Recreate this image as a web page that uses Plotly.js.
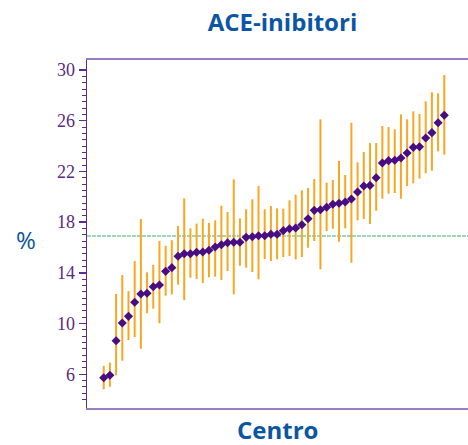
<!DOCTYPE html>
<html>
<head>
<meta charset="utf-8">
<script src="https://cdn.plot.ly/plotly-3.0.1.min.js"></script>
<style>html,body{margin:0;padding:0;background:#fff;}#chart{width:468px;height:445px;}</style>
</head>
<body>
<div id="chart"></div>
<script>
// Centres (ordered), values in %
const centres = Array.from({length: 56}, (_, i) => i + 1);
const values = [5.73,5.92,8.65,10.05,10.57,11.68,12.33,12.39,12.91,13.04,14.12,14.41,15.31,15.51,15.51,15.62,15.64,15.78,16.04,16.22,16.38,16.41,16.41,16.8,16.85,16.93,16.93,17.04,17.04,17.33,17.48,17.54,17.8,18.27,18.93,18.98,19.17,19.41,19.49,19.59,19.83,20.38,20.85,20.9,21.5,22.66,22.85,22.88,23.06,23.45,23.9,23.95,24.64,25.06,25.84,26.43];
const upper = [6.66,6.92,12.33,13.83,12.57,14.93,18.25,14.04,14.62,16.51,16.14,16.57,17.69,19.88,17.51,17.88,18.27,17.93,18.14,19.3,18.8,21.38,18.3,19.01,19.8,20.85,19.01,19.27,19.09,19.06,19.72,20.16,20.51,20.69,21.4,26.11,21.11,21.32,22.82,21.72,25.84,22.72,23.53,24.24,24.24,25.58,25.5,25.32,26.5,26.11,26.74,26.53,27.53,28.24,28.16,29.6];
const lower = [4.82,5.02,5.92,7.07,8.7,8.94,8.02,10.81,11.17,10.02,12.2,12.31,13.07,11.84,13.62,13.52,13.2,13.65,13.7,13.44,14.15,12.31,14.56,14.41,14.07,13.49,15.09,14.93,15.07,15.25,15.33,15.07,15.25,15.98,16.51,14.28,17.3,17.48,16.46,17.51,14.8,18.14,18.25,17.85,18.9,19.85,20.24,20.3,19.85,20.85,21.06,21.43,21.85,22.06,23.59,23.32];
const overall = 16.9;
const tickVals = [4,6,8,10,12,14,16,18,20,22,24,26,28,30];
const tickText = ['','6','','10','','14','','18','','22','','26','','30'];

const minorVals = [];
for (let v = 4; v <= 30.001; v += 0.5) minorVals.push(v);

const trace = {
  x: centres,
  y: values,
  type: 'scatter',
  mode: 'markers',
  marker: {symbol: 'diamond', size: 7, color: '#4a0d80'},
  error_y: {
    type: 'data', symmetric: false,
    array: values.map((v, i) => upper[i] - v),
    arrayminus: values.map((v, i) => v - lower[i]),
    color: '#f9a620', thickness: 2, width: 0
  },
  hoverinfo: 'skip'
};

const purple = '#5b2d8e';
const layout = {
  width: 468, height: 445,
  margin: {l: 87, r: 0, t: 60, b: 37},
  paper_bgcolor: '#fff', plot_bgcolor: '#fff',
  showlegend: false,
  title: {
    text: '<b>ACE-inibitori</b>',
    font: {family: 'Open Sans', size: 24, color: '#0b56a4'},
    x: 0.6036, xanchor: 'center', xref: 'container',
    y: 0.95, yanchor: 'middle', yref: 'container'
  },
  xaxis: {
    range: [-1.7, 59.83],
    showline: true, mirror: true, linecolor: '#9a7cc4', linewidth: 2,
    showgrid: false, zeroline: false, ticks: '', showticklabels: false
  },
  yaxis: {
    range: [3.34, 30.79],
    showline: true, linecolor: purple, linewidth: 1.5,
    showgrid: false, zeroline: false,
    tickmode: 'array', tickvals: tickVals, ticktext: tickText,
    ticks: 'outside', ticklen: 7, tickwidth: 1.5, tickcolor: purple,
    tickfont: {family: 'Liberation Serif', size: 18, color: '#5b2a86'},
    minor: {tickmode: 'array', tickvals: minorVals, ticks: 'outside', ticklen: 4, tickwidth: 1, tickcolor: purple, showgrid: false}
  },
  shapes: [{
    type: 'line', xref: 'paper', x0: 0, x1: 1, yref: 'y', y0: overall, y1: overall,
    line: {color: '#9dd7b3', width: 2, dash: '4px,1px'},
    layer: 'below'
  }],
  annotations: [
    {text: '<b>Centro</b>', xref: 'paper', yref: 'paper', x: 0.4987, y: -0.062,
     xanchor: 'center', yanchor: 'middle', showarrow: false, borderpad: 0,
     font: {family: 'Open Sans', size: 24, color: '#0b56a4'}},
    {text: '%', xref: 'paper', yref: 'paper', x: -0.160, y: 0.483,
     xanchor: 'center', yanchor: 'middle', showarrow: false,
     font: {family: 'Open Sans', size: 24, color: '#0b56a4'}}
  ]
};

Plotly.newPlot('chart', [trace], layout, {displayModeBar: false, staticPlot: true});
</script>
</body>
</html>
